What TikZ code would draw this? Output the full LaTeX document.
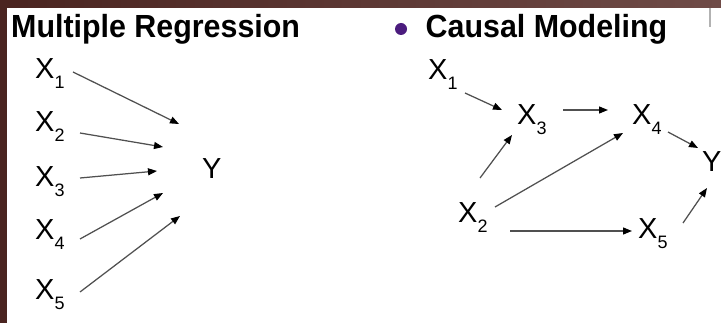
\documentclass[tikz,border=0pt]{standalone}
\usepackage{fontspec}
\setmainfont{Liberation Sans}
\usetikzlibrary{arrows.meta}
\definecolor{framedark}{HTML}{4A2420}
\definecolor{framelight}{HTML}{6F4B47}
\definecolor{bulletpurple}{HTML}{4B1C7E}
\definecolor{arrowgray}{HTML}{505050}
\newcommand{\xvar}[1]{X\raisebox{-9.5pt}{\fontsize{18}{18}\selectfont #1}}
\newcommand{\titletext}[1]{\scalebox{0.95}[1]{#1}}
\tikzset{
  varnode/.style={anchor=base west, inner sep=0pt, font=\fontsize{29}{34}\selectfont, text=black},
  titlenode/.style={anchor=base west, inner sep=0pt, font=\fontsize{32}{38}\selectfont\bfseries, text=black},
  arr/.style={draw=arrowgray, line width=1.25pt, -{Triangle[length=9pt,width=7pt,color=black]}}
}
\begin{document}
\begin{tikzpicture}[x=1pt,y=-1pt]
\useasboundingbox (0,0) rectangle (721,323);
\fill[white] (0,0) rectangle (721,323);
% frame
\shade[left color=framedark, right color=framelight] (0,0) rectangle (721,8);
\fill[framedark] (0,0) rectangle (7,323);
\draw[color=black!30, line width=2pt] (710,8) -- (710,27);

% titles
\node[titlenode] (t1) at (11,37.5) {\titletext{Multiple Regression}};
\fill[bulletpurple] (401,29) circle (6);
\node[titlenode] (t2) at (425.5,37.5) {\titletext{Causal Modeling}};

% left panel: multiple regression
\node[varnode] (lx1) at (35,79) {\xvar{1}};
\node[varnode] (lx2) at (35,132) {\xvar{2}};
\node[varnode] (lx3) at (35,187) {\xvar{3}};
\node[varnode] (lx4) at (35,240) {\xvar{4}};
\node[varnode] (lx5) at (35,300) {\xvar{5}};
\node[varnode] (ly) at (202,179) {Y};

\coordinate (e1) at (179,124);
\coordinate (e2) at (163,147);
\coordinate (e3) at (157,171);
\coordinate (e4) at (163,193);
\coordinate (e5) at (180,216);

\draw[arr] ([shift={(38,-7)}]lx1.base west) -- (e1);
\draw[arr] ([shift={(45,1)}]lx2.base west) -- (e2);
\draw[arr] ([shift={(45,-9)}]lx3.base west) -- (e3);
\draw[arr] ([shift={(45,-1)}]lx4.base west) -- (e4);
\draw[arr] ([shift={(45,-8)}]lx5.base west) -- (e5);

% right panel: causal modeling
\node[varnode] (cx1) at (428,80) {\xvar{1}};
\node[varnode] (cx3) at (517,125) {\xvar{3}};
\node[varnode] (cx4) at (632,125) {\xvar{4}};
\node[varnode] (cx2) at (458,223) {\xvar{2}};
\node[varnode] (cx5) at (638,239) {\xvar{5}};
\node[varnode] (cy) at (702,172) {Y};

\draw[arr] ([shift={(37,13)}]cx1.base west) -- ([shift={(-15,-15)}]cx3.base west);
\draw[arr] ([shift={(46,-15)}]cx3.base west) -- ([shift={(-24,-15)}]cx4.base west);
\draw[arr] ([shift={(36,7)}]cx4.base west) -- ([shift={(-4,-24)}]cy.base west);
\draw[arr] ([shift={(22,-45)}]cx2.base west) -- ([shift={(-5,10)}]cx3.base west);
\draw[arr] ([shift={(37,-16)}]cx2.base west) -- ([shift={(-9,8)}]cx4.base west);
\draw[arr] ([shift={(52,8)}]cx2.base west) -- ([shift={(-6,-8)}]cx5.base west);
\draw[arr] ([shift={(45,-16)}]cx5.base west) -- ([shift={(5,16)}]cy.base west);
\end{tikzpicture}
\end{document}
